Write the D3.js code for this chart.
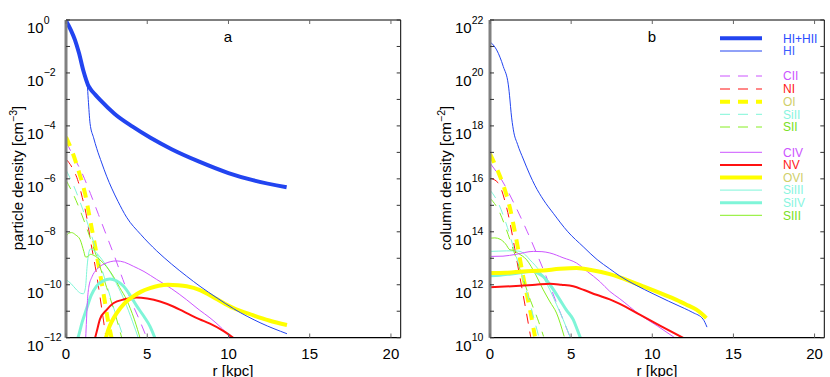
<!DOCTYPE html>
<html>
<head>
<meta charset="utf-8">
<script src="https://cdn.jsdelivr.net/npm/d3@7"></script>
<style>
  body { margin: 0; background: #fff; }
  svg { font-family: "Liberation Sans", Arial, sans-serif; }
</style>
</head>
<body>
<div id="chart"></div>
<script>
// values are [r (kpc), log10 value]
// panel a: particle density
const aHItot = [[0,-0.03],[0.3,-0.38],[0.55,-0.75],[0.8,-1.25],[1.07,-1.92],[1.25,-2.28],[1.35,-2.45],[1.5,-2.6],[1.8,-2.82],[2.1,-3.02],[3,-3.55],[4.1,-4.03],[5.2,-4.45],[6.5,-4.88],[8.2,-5.35],[10,-5.78],[11.5,-6.05],[13.58,-6.32]];
const aHI = [[0,-0.03],[0.3,-0.38],[0.55,-0.75],[0.8,-1.25],[1.07,-1.92],[1.25,-2.28],[1.31,-2.45],[1.37,-3.0],[1.48,-3.9],[1.7,-4.45],[1.89,-4.85],[2.2,-5.4],[2.5,-5.9],[2.81,-6.35],[3.2,-6.85],[3.73,-7.45],[4.6,-8.1],[5.58,-8.72],[6.5,-9.22],[7.43,-9.68],[8.25,-10.06],[9.3,-10.5],[10.3,-10.9],[12,-11.45],[13.6,-11.85]];
const aCII = [[0,-4.6],[0.5,-5.2],[1.0,-5.8],[1.5,-6.55],[2.0,-7.35],[2.5,-8.15],[3.0,-8.95],[3.5,-9.8],[4.0,-10.6],[4.5,-11.3],[5.0,-12.05]];
const aNI = [[0,-5.25],[0.4,-5.6],[0.75,-6.1],[1.0,-6.7],[1.23,-7.3],[1.5,-8.3],[1.88,-9.6],[2.2,-10.9],[2.46,-12.0],[2.55,-12.4]];
const aOI = [[0,-4.42],[0.4,-5.0],[0.8,-5.75],[1.17,-6.55],[1.5,-7.6],[1.9,-8.9],[2.3,-10.3],[2.6,-11.4],[2.82,-12.05]];
const aSiII = [[0,-5.66],[0.5,-6.3],[1.0,-7.1],[1.5,-8.0],[2.0,-9.0],[2.5,-10.0],[3.0,-11.0],[3.6,-12.1]];
const aSII = [[0,-6.05],[0.5,-6.65],[1.0,-7.4],[1.5,-8.25],[2.0,-9.15],[2.5,-10.1],[3.0,-11.05],[3.45,-12.05]];
const aCIV = [[1.2,-12.2],[1.25,-11.5],[1.32,-10.6],[1.4,-10.1],[1.6,-9.7],[1.88,-9.43],[2.4,-9.2],[3.12,-9.1],[3.6,-9.15],[4.14,-9.3],[4.8,-9.5],[5.58,-9.8],[6.5,-10.15],[7.43,-10.57],[8.2,-10.95],[8.86,-11.25],[9.6,-11.65],[10.2,-12.05]];
const aNV = [[1.75,-12.1],[1.9,-11.75],[2.09,-11.3],[2.5,-10.95],[2.91,-10.7],[3.6,-10.55],[4.35,-10.48],[5.0,-10.52],[5.79,-10.63],[6.6,-10.82],[7.43,-11.07],[8.2,-11.3],[8.86,-11.47],[9.7,-11.75],[10.4,-12.05]];
const aOVI = [[2.42,-12.1],[2.6,-11.7],[2.85,-11.35],[3.12,-11.07],[3.6,-10.7],[4.14,-10.44],[4.6,-10.27],[5.17,-10.13],[5.7,-10.04],[6.28,-10.0],[6.9,-10.02],[7.43,-10.06],[8.25,-10.2],[9.3,-10.55],[10.3,-10.88],[11.5,-11.15],[12.5,-11.35],[13.6,-11.52]];
const aSiIII = [[0,-9.81],[0.3,-9.95],[0.66,-10.2],[0.9,-10.32],[1.07,-10.34],[1.2,-10.1],[1.3,-9.3],[1.4,-8.8],[1.5,-8.65],[1.7,-8.7],[2.09,-8.95],[2.6,-9.4],[3.1,-9.95],[3.6,-10.6],[4.1,-11.4],[4.5,-12.1]];
const aSiIV = [[0.5,-12.3],[0.76,-11.95],[1.0,-11.4],[1.27,-10.9],[1.55,-10.4],[1.88,-10.05],[2.3,-9.85],[2.7,-9.78],[3.1,-9.85],[3.53,-10.05],[4.0,-10.45],[4.35,-10.8],[4.8,-11.2],[5.17,-11.57],[5.5,-12.05]];
const aSIII = [[0,-8.18],[0.15,-8.06],[0.34,-8.03],[0.6,-8.12],[0.87,-8.3],[1.1,-8.75],[1.2,-8.95],[1.3,-8.95],[1.5,-8.85],[1.8,-8.92],[2.09,-9.06],[2.5,-9.32],[2.91,-9.68],[3.3,-10.1],[3.73,-10.57],[4.2,-11.3],[4.6,-12.1]];

// panel b: column density
const bHI = [[0,21.18],[0.41,20.87],[0.82,20.24],[1.13,19.55],[1.23,18.98],[1.3,18.5],[1.44,17.85],[1.7,17.3],[2.05,16.75],[2.46,16.15],[2.77,15.75],[3.3,15.2],[3.9,14.7],[4.8,14.0],[5.74,13.44],[6.6,12.95],[7.38,12.6],[8.0,12.33],[9.0,11.98],[10.05,11.66],[11.0,11.38],[12.0,11.1],[12.5,10.95],[13.13,10.7],[13.37,10.4]];
const bCII = [[0,16.6],[0.72,15.96],[1.5,15.05],[2.3,14.0],[3.0,13.0],[3.6,12.1],[4.3,11.0],[4.95,10.0]];
const bNI = [[0,16.03],[0.5,15.85],[1.03,14.9],[1.74,12.63],[2.5,10.05],[2.6,9.7]];
const bOI = [[0,16.94],[0.41,16.4],[0.92,15.58],[1.23,14.9],[1.5,14.1],[2.05,12.3],[2.45,11.1],[2.77,10.05]];
const bSiII = [[0,15.58],[0.5,15.1],[1.0,14.3],[1.5,13.3],[2.0,12.3],[2.5,11.2],[3.0,10.05]];
const bSII = [[0,15.27],[0.5,14.85],[1.0,14.1],[1.5,13.2],[2.0,12.3],[2.5,11.4],[3.0,10.6],[3.3,10.05]];
const bCIV = [[0,13.07],[0.8,13.08],[1.6,13.15],[2.67,13.26],[3.2,13.25],[3.69,13.2],[4.5,13.02],[5.33,12.82],[6.0,12.5],[6.77,12.12],[7.38,11.75],[8.0,11.47],[9.23,10.87],[10.3,10.45],[11.43,9.98]];
const bNV = [[0,11.91],[0.9,11.93],[1.85,11.96],[2.8,12.0],[3.69,12.04],[4.4,12.0],[5.13,11.94],[5.8,11.8],[6.56,11.62],[7.38,11.45],[8.0,11.28],[9.23,10.87],[10.5,10.45],[11.94,9.98]];
const bOVI = [[0,12.44],[1,12.45],[2,12.5],[3.28,12.54],[4.3,12.6],[5.33,12.63],[6.3,12.55],[7.38,12.4],[8.0,12.28],[9.43,11.94],[10.5,11.68],[11.49,11.43],[12.2,11.22],[12.72,11.06],[13.1,10.88],[13.33,10.74]];
const bSiIII = [[0,13.26],[0.5,13.27],[1.03,13.28],[1.5,13.28],[1.85,13.26],[2.2,13.12],[2.46,12.94],[2.8,12.72],[3.08,12.5],[3.4,12.15],[3.69,11.81],[4.1,11.25],[4.51,10.68],[4.95,10.0]];
const bSiIV = [[0,12.34],[0.6,12.36],[1.2,12.4],[1.85,12.45],[2.4,12.5],[2.67,12.5],[3.0,12.42],[3.28,12.31],[3.7,12.0],[4.31,11.43],[4.7,11.05],[5.13,10.68],[5.35,10.35],[5.6,9.95]];
const bSIII = [[0,13.76],[0.3,13.77],[0.62,13.72],[0.95,13.55],[1.23,13.32],[1.45,13.3],[1.7,13.2],[2.26,12.94],[2.8,12.4],[3.28,11.81],[3.7,11.35],[4.1,10.93],[4.57,10.05]];

const xTicks = [0, 5, 10, 15, 20];
const legendLabels = ['HI+HII', 'HI', 'CII', 'NI', 'OI', 'SiII', 'SII', 'CIV', 'NV', 'OVI', 'SiIII', 'SiIV', 'SIII'];

const BLUE = '#2244f0';
const MAG = '#cc55ff';
const RED = '#ff1111';
const YEL = '#ffff00';
const CYAN = '#7ff5d8';
const GREEN = '#86ee22';

// line style per species (same order as legend)
const styles = [
  { color: BLUE, w: 4, dash: null, text: '#2a4cff' },
  { color: BLUE, w: 1, dash: null, text: '#3a5cff' },
  { color: MAG, w: 1, dash: '10,8', text: '#cc55ff' },
  { color: RED, w: 1, dash: '10,8', text: '#ff2020' },
  { color: YEL, w: 4, dash: '10,8', text: '#cfcf6a' },
  { color: CYAN, w: 1, dash: '10,8', text: '#88f5e0' },
  { color: GREEN, w: 1, dash: '10,8', text: '#77e022' },
  { color: MAG, w: 1, dash: null, text: '#cc55ff' },
  { color: RED, w: 2, dash: null, text: '#ff2020' },
  { color: YEL, w: 4, dash: null, text: '#cfcf6a' },
  { color: CYAN, w: 1, dash: null, text: '#88f5e0' },
  { color: CYAN, w: 3, dash: null, text: '#88f5e0' },
  { color: GREEN, w: 1, dash: null, text: '#77e022' },
];

const panelA = [aHItot, aHI, aCII, aNI, aOI, aSiII, aSII, aCIV, aNV, aOVI, aSiIII, aSiIV, aSIII];
const panelB = [null, bHI, bCII, bNI, bOI, bSiII, bSII, bCIV, bNV, bOVI, bSiIII, bSiIV, bSIII];

const svg = d3.select('#chart').append('svg')
  .attr('width', 830)
  .attr('height', 377);

function drawPanel(opts) {
  const x = d3.scaleLinear().domain([0, 20.6]).range([opts.left, opts.right]);
  const y = d3.scaleLog().domain([10 ** opts.ymin, 10 ** opts.ymax]).range([337.7, 20]);
  const g = svg.append('g');

  const clipId = 'clip-' + opts.name;
  svg.append('clipPath').attr('id', clipId)
    .append('rect')
    .attr('x', opts.left).attr('y', 20)
    .attr('width', opts.right - opts.left).attr('height', 317.7);

  const line = d3.line()
    .x((d) => x(d[0]))
    .y((d) => y(10 ** d[1]))
    .curve(d3.curveMonotoneX);

  const lines = g.append('g').attr('clip-path', `url(#${clipId})`);
  // thin and dashed first, thick ones on top
  const order = [2, 3, 4, 5, 6, 10, 12, 11, 7, 8, 9, 1, 0];
  order.forEach((i) => {
    const data = opts.series[i];
    if (!data) return;
    const s = styles[i];
    lines.append('path')
      .datum(data)
      .attr('d', line)
      .attr('fill', 'none')
      .attr('stroke', s.color)
      .attr('stroke-width', s.w)
      .attr('stroke-dasharray', s.dash)
      .attr('stroke-linejoin', 'round');
  });

  // frame
  const [x0, x1] = [opts.left, opts.right];
  g.append('line').attr('x1', x0).attr('x2', x1).attr('y1', 20).attr('y2', 20)
    .attr('stroke', '#000').attr('stroke-width', 1);
  g.append('line').attr('x1', x1).attr('x2', x1).attr('y1', 20).attr('y2', 337.7)
    .attr('stroke', '#000').attr('stroke-width', 1);
  g.append('line').attr('x1', x0).attr('x2', x1).attr('y1', 337.7).attr('y2', 337.7)
    .attr('stroke', '#000').attr('stroke-width', 1.3);
  g.append('line').attr('x1', x0).attr('x2', x0).attr('y1', 20).attr('y2', 337.7)
    .attr('stroke', '#808080').attr('stroke-width', 3);

  // x ticks
  xTicks.forEach((t) => {
    const px = x(t);
    g.append('line').attr('x1', px).attr('x2', px).attr('y1', 337.7).attr('y2', 333.5)
      .attr('stroke', '#666').attr('stroke-width', 1);
    g.append('line').attr('x1', px).attr('x2', px).attr('y1', 20).attr('y2', 24)
      .attr('stroke', '#666').attr('stroke-width', 1);
    g.append('text').attr('x', px).attr('y', 358.5)
      .attr('text-anchor', 'middle').attr('font-size', 15)
      .text(t);
  });

  // y ticks, every decade
  d3.range(opts.ymin, opts.ymax + 1).forEach((e) => {
    const py = y(10 ** e);
    g.append('line').attr('x1', x0).attr('x2', x0 + 4).attr('y1', py).attr('y2', py)
      .attr('stroke', '#333');
    g.append('line').attr('x1', x1).attr('x2', x1 - 4).attr('y1', py).attr('y2', py)
      .attr('stroke', '#333');
    if (e % 2 === 0) {
      const txt = g.append('text').attr('x', opts.labelX).attr('y', py + 13)
        .attr('font-size', 15);
      txt.append('tspan').text('10');
      txt.append('tspan').attr('font-size', 10.5).attr('dy', -9.5)
        .text(e < 0 ? '\u2212' + Math.abs(e) : e);
    }
  });

  // axis titles
  g.append('text')
    .attr('transform', `translate(${opts.titleX},178) rotate(-90)`)
    .attr('text-anchor', 'middle').attr('font-size', 15)
    .call((t) => {
      t.append('tspan').text(opts.title);
      t.append('tspan').attr('font-size', 10.5).attr('dy', -6.5).text(opts.unit);
      t.append('tspan').attr('dy', 6.5).text(']');
    });
  g.append('text').attr('x', opts.xLabelX).attr('y', 375.5)
    .attr('text-anchor', 'middle').attr('font-size', 15)
    .text('r [kpc]');

  g.append('text').attr('x', opts.letterX).attr('y', 42)
    .attr('text-anchor', 'middle').attr('font-size', 15)
    .text(opts.name);
  return { x, y };
}

drawPanel({
  name: 'a', left: 66, right: 400.7, ymin: -12, ymax: 0, series: panelA,
  labelX: 27, titleX: 23, title: 'particle density [cm', unit: '\u22123',
  xLabelX: 233, letterX: 228,
});
drawPanel({
  name: 'b', left: 490, right: 824.3, ymin: 10, ymax: 22, series: panelB,
  labelX: 455, titleX: 451, title: 'column density [cm', unit: '\u22122',
  xLabelX: 657, letterX: 652,
});

// legend inside panel b
const legendY = [38.3, 51, 76, 89, 101.7, 114.3, 127, 152.3, 164.9, 177.5, 190.1, 202.7, 215.3];
const legend = svg.append('g');
legendLabels.forEach((label, i) => {
  const s = styles[i];
  legend.append('line')
    .attr('x1', 720).attr('x2', 762)
    .attr('y1', legendY[i]).attr('y2', legendY[i])
    .attr('stroke', s.color).attr('stroke-width', s.w)
    .attr('stroke-dasharray', s.dash);
  legend.append('text')
    .attr('x', 783).attr('y', legendY[i] + 4.3)
    .attr('font-size', 12)
    .attr('fill', s.text)
    .text(label);
});
</script>
</body>
</html>
